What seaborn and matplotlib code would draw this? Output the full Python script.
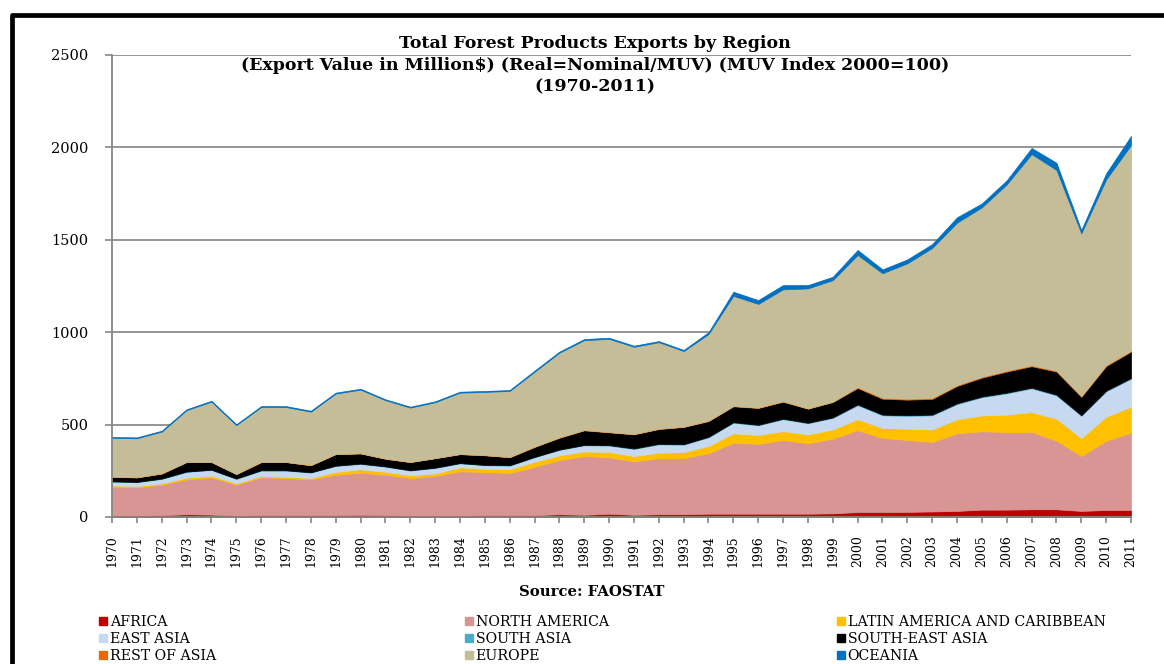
import matplotlib
matplotlib.use("Agg")
import matplotlib.pyplot as plt
from matplotlib.lines import Line2D
from matplotlib.patches import Patch
import seaborn as sns

years = list(range(1970, 2012))

africa = [8, 8, 10, 15, 13, 8, 10, 10, 10, 10, 12, 10, 8, 8, 8, 10, 10, 10, 15, 12, 18,
          12, 15, 15, 18, 18, 18, 18, 18, 20, 27, 27, 28, 30, 33, 40, 40, 42, 42, 33, 38, 38]
north_america = [156, 153, 165, 189, 202, 167, 205, 201, 194, 219, 228, 219, 203, 214, 239, 234,
                 228, 262, 293, 318, 305, 289, 304, 304, 327, 384, 377, 399, 381, 404, 443, 401,
                 389, 376, 420, 424, 420, 418, 371, 297, 375, 418]
latin_america = [7, 7, 7, 9, 9, 7, 7, 7, 7, 15, 18, 16, 15, 14, 22, 17, 20, 27, 26, 25, 29,
                 29, 29, 33, 39, 51, 49, 48, 48, 50, 59, 54, 61, 68, 76, 86, 94, 108, 119, 97, 130, 141]
east_asia = [20, 20, 24, 31, 30, 24, 29, 33, 29, 32, 29, 27, 25, 29, 21, 19, 20, 24, 29, 33, 34,
             38, 45, 39, 47, 57, 52, 64, 60, 62, 76, 68, 69, 76, 82, 98, 115, 128, 126, 120, 137, 151]
south_asia = [2] * 20 + [3] * 10 + [4] * 12
south_east_asia = [24, 24, 27, 51, 41, 24, 44, 44, 38, 62, 55, 41, 44, 51, 48, 52, 43, 54, 64, 79,
                   69, 76, 80, 93, 85, 86, 91, 92, 76, 83, 89, 86, 84, 85, 94, 102, 114, 116, 125,
                   99, 133, 143]
rest_of_asia = [1] * 16 + [2] * 14 + [5] * 12
europe = [210, 211, 226, 280, 326, 264, 297, 297, 289, 327, 344, 316, 294, 302, 332, 342, 357,
          405, 458, 486, 504, 472, 468, 409, 469, 596, 561, 606, 649, 658, 715, 674, 733, 812,
          879, 917, 1008, 1143, 1086, 880, 1005, 1113]
oceania = [5] * 17 + [6] * 7 + [10, 22, 21, 23, 18, 18, 27, 21, 21, 21, 29, 21, 22, 33, 39, 18, 33, 49]

labels = ["AFRICA", "NORTH AMERICA", "LATIN AMERICA AND CARIBBEAN", "EAST ASIA",
          "SOUTH ASIA", "SOUTH-EAST ASIA", "REST OF ASIA", "EUROPE", "OCEANIA"]
series = [africa, north_america, latin_america, east_asia, south_asia,
          south_east_asia, rest_of_asia, europe, oceania]
colors = ["#C00000", "#D99594", "#FFC000", "#C6D9F1", "#4BACC6",
          "#000000", "#E36C09", "#C4BD97", "#0070C0"]

sns.set_theme(style="white")
plt.rcParams["font.family"] = ["DejaVu Serif"]
for k in ["text.color", "axes.labelcolor", "xtick.color", "ytick.color"]:
    plt.rcParams[k] = "black"

W, H = 1164, 664
fig = plt.figure(figsize=(W / 100, H / 100), dpi=100)
fig.patch.set_facecolor("white")
ax = fig.add_axes([112 / W, 1 - 517 / H, (1131 - 112) / W, (517 - 55) / H])

polys = ax.stackplot(years, *series, colors=colors, labels=labels, linewidth=0.5)
for p, c in zip(polys, colors):
    p.set_edgecolor(c)

ax.set_xlim(1970, 2011)
ax.set_ylim(0, 2500)
ax.set_yticks(range(0, 2501, 500))
ax.set_xticks(years)
ax.set_xticklabels([str(y) for y in years], rotation=90, fontsize=9)
ax.tick_params(axis="y", labelsize=10.5, length=5, width=1.2, color="#868686", pad=12,
               left=True, labelcolor="black")
ax.tick_params(axis="x", length=4, width=1.2, color="#868686", pad=9, bottom=True,
               labelcolor="black")
ax.set_axisbelow(True)
ax.yaxis.grid(True, color="#8c8c8c", linewidth=1.3)
ax.xaxis.grid(False)
for s in ["top", "right"]:
    ax.spines[s].set_visible(False)
for s in ["left", "bottom"]:
    ax.spines[s].set_color("#868686")
    ax.spines[s].set_linewidth(1.3)
ax.set_facecolor("white")

cx = 595 / W
fig.text(cx, 1 - 44 / H, "Total Forest Products Exports by Region", ha="center", va="center",
         fontsize=12.5, fontweight="bold", color="black")
fig.text(cx, 1 - 66 / H, "(Export Value in Million$) (Real=Nominal/MUV) (MUV Index 2000=100)",
         ha="center", va="center", fontsize=12.5, fontweight="bold", color="black")
fig.text(cx, 1 - 87 / H, "(1970-2011)", ha="center", va="center", fontsize=12.5,
         fontweight="bold", color="black")
fig.text(592 / W, 1 - 592 / H, "Source: FAOSTAT", ha="center", va="center",
         fontsize=10.7, fontweight="bold", color="black")

handles = [Patch(facecolor=c, edgecolor=c) for c in colors]
cols = [[0, 3, 6], [1, 4, 7], [2, 5, 8]]
xs = [99, 465, 837]
for xpos, idx in zip(xs, cols):
    fig.legend([handles[i] for i in idx], [labels[i] for i in idx],
               loc="upper left", bbox_to_anchor=(xpos / W, 1 - 615 / H),
               frameon=False, fontsize=10.2, handlelength=0.55, handleheight=0.55,
               handletextpad=0.2, labelspacing=0.22, borderpad=0, borderaxespad=0,
               labelcolor="black")

fig.add_artist(Line2D([11.5 / W, 11.5 / W, 1.0], [0.0, 1 - 14.5 / H, 1 - 14.5 / H],
                      transform=fig.transFigure, color="black", linewidth=3.4,
                      solid_joinstyle="round"))

fig.savefig("out.png", dpi=100)
